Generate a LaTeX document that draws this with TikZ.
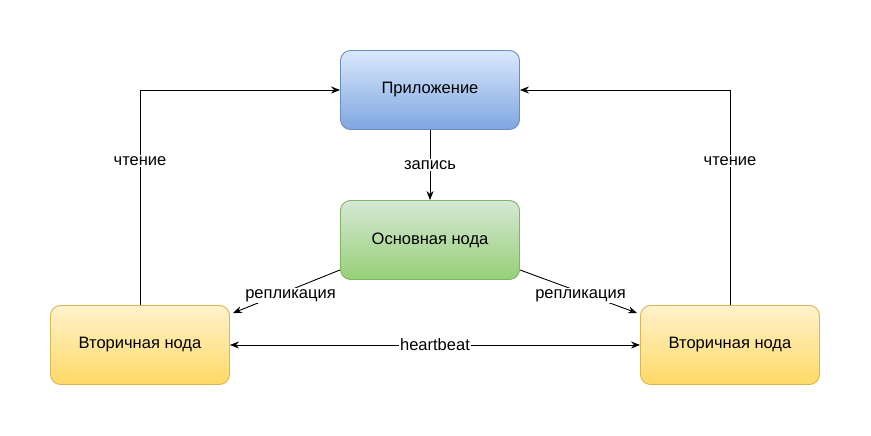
\documentclass[tikz,border=0pt]{standalone}
\usepackage{fontspec}
\setmainfont{Liberation Sans}
\usetikzlibrary{positioning, calc, arrows.meta}

\definecolor{blueTop}{HTML}{DAE8FC}
\definecolor{blueBot}{HTML}{7EA6E0}
\definecolor{blueLine}{HTML}{6C8EBF}
\definecolor{greenTop}{HTML}{D5E8D4}
\definecolor{greenBot}{HTML}{97D077}
\definecolor{greenLine}{HTML}{82B366}
\definecolor{yellowTop}{HTML}{FFF2CC}
\definecolor{yellowBot}{HTML}{FFD966}
\definecolor{yellowLine}{HTML}{D6B656}

\begin{document}
\begin{tikzpicture}[x=1pt, y=1pt, every node/.style={font=\fontsize{16.5}{19}\selectfont},
  box/.style={draw, rounded corners=10pt, line width=0.9pt, minimum width=179pt, minimum height=79pt, align=center},
  conn/.style={-{Stealth[length=9pt, width=7pt]}, line width=0.9pt},
  lbl/.style={fill=white, inner sep=1.5pt}]
  \useasboundingbox (0,0) rectangle (871,436);

  \node[box, top color=blueTop, bottom color=blueBot, draw=blueLine] (app) at (430,346) {Приложение};
  \node[box, top color=greenTop, bottom color=greenBot, draw=greenLine] (primary) at (430,196) {Основная нода};
  \node[box, top color=yellowTop, bottom color=yellowBot, draw=yellowLine] (secL) at (140,91) {Вторичная нода};
  \node[box, top color=yellowTop, bottom color=yellowBot, draw=yellowLine] (secR) at (730,91) {Вторичная нода};

  % write
  \draw[conn] (app) -- node[lbl] {запись} (primary);

  % reads
  \draw[conn] (secL.north) |- node[lbl, pos=0.335] {чтение} (app.west);
  \draw[conn] (secR.north) |- node[lbl, pos=0.335] {чтение} (app.east);

  % replication
  \draw[conn] ($(primary.south west)+(0,10)$) -- node[lbl, yshift=-4pt, xshift=4pt] {репликация} ($(secL.north east)+(3,-8)$);
  \draw[conn] ($(primary.south east)+(0,10)$) -- node[lbl, yshift=-4pt, xshift=2pt] {репликация} ($(secR.north west)+(-3,-8)$);

  % heartbeat
  \draw[{Stealth[length=9pt, width=7pt]}-{Stealth[length=9pt, width=7pt]}, line width=0.9pt] (secL) -- node[lbl] {heartbeat} (secR);
\end{tikzpicture}
\end{document}
